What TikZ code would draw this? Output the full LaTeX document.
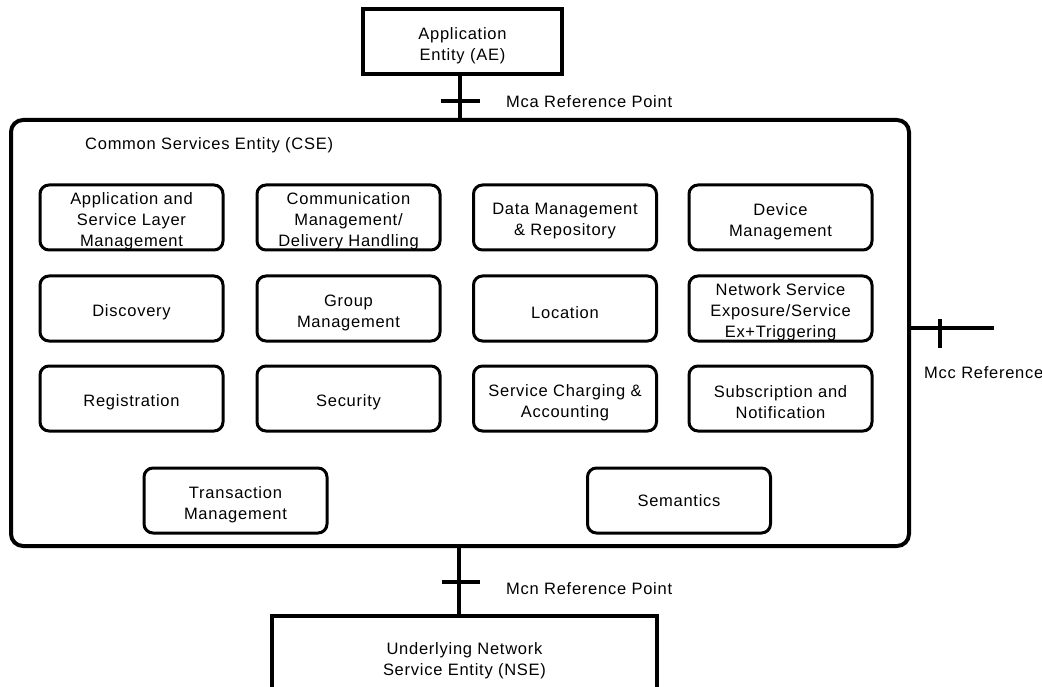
\documentclass[tikz,border=0pt]{standalone}
\usepackage{fontspec}
\setmainfont[LetterSpace=4.5]{Liberation Sans}
\begin{document}
\begin{tikzpicture}[x=1pt,y=-1pt,
  every node/.style={font=\fontsize{16.5}{21}\selectfont},
  boxtext/.style={align=center, inner sep=0pt, yshift=-4pt},
  svcbox/.style={draw, line width=3pt, rounded corners=9pt, minimum width=183pt,
    minimum height=65pt, inner sep=0pt},
  svc/.style={svcbox, label={[boxtext]center:{#1}}},
  svcmid/.style={svcbox, label={[boxtext, yshift=4pt]center:{#1}}},
  ent/.style={draw, line width=4pt, inner sep=0pt,
    label={[boxtext]center:{#1}}},
  csebox/.style={draw, line width=4pt, rounded corners=12pt, inner sep=0pt,
    minimum width=898pt, minimum height=426pt},
  link/.style={line width=4pt},
  tickmark/.style={line width=3.5pt},
  reflabel/.style={anchor=west, inner sep=0pt}]
\useasboundingbox (0,0) rectangle (1042,687);

% outer entities
\node[ent={Application\\Entity (AE)}, minimum width=199pt, minimum height=65pt]
  (ae) at (462.5,41.5) {};
\node[csebox] (cse) at (460,333) {};
\node[ent={Underlying Network\\Service Entity (NSE)}, minimum width=385pt,
  minimum height=82pt] (nse) at (464.5,657) {};

\node[anchor=west, inner sep=0pt] (csetitle) at (85,145) {Common Services Entity (CSE)};

% common service functions
\node[svc={Application and\\Service Layer\\Management}] (asl) at (131.5,217.5) {};
\node[svc={Communication\\Management/\\Delivery Handling}] (cmdh) at (348.5,217.5) {};
\node[svc={Data Management\\\& Repository}] (dmr) at (565,217.5) {};
\node[svc={Device\\Management}] (dm) at (780.5,217.5) {};

\node[svc={Discovery}] (dis) at (131.5,308.5) {};
\node[svc={Group\\Management}] (gm) at (348.5,308.5) {};
\node[svc={Location}] (loc) at (565,308.5) {};
\node[svc={Network Service\\Exposure/Service\\Ex+Triggering}] (nsx) at (780.5,308.5) {};

\node[svc={Registration}] (reg) at (131.5,398.5) {};
\node[svc={Security}] (sec) at (348.5,398.5) {};
\node[svc={Service Charging \&\\Accounting}] (sca) at (565,398.5) {};
\node[svc={Subscription and\\Notification}] (sub) at (780.5,398.5) {};

\node[svc={Transaction\\Management}] (tm) at (235.5,500.5) {};
\node[svcmid={Semantics}] (sem) at (679,500.5) {};

% Mca reference point
\draw[link] (cse.north) -- (cse.north |- ae.south);
\coordinate (mca) at ([yshift=17pt]cse.north);
\draw[tickmark] ([xshift=-19pt]mca) -- ([xshift=20pt]mca);
\node[reflabel] (mcalabel) at (506,102) {Mca Reference Point};

% Mcc reference point
\coordinate (mccend) at (994,328);
\draw[link] (mccend -| cse.east) -- (mccend);
\coordinate (mcc) at (940,328);
\draw[tickmark] ([yshift=9pt]mcc) -- ([yshift=-20pt]mcc);
\node[reflabel] (mcclabel) at (924,373) {Mcc Reference};

% Mcn reference point
\coordinate (mcntop) at (459,545);
\draw[link] (mcntop) -- (mcntop |- nse.north);
\coordinate (mcn) at (459,582);
\draw[tickmark] ([xshift=-17pt]mcn) -- ([xshift=21pt]mcn);
\node[reflabel] (mcnlabel) at (506,589) {Mcn Reference Point};
\end{tikzpicture}
\end{document}
